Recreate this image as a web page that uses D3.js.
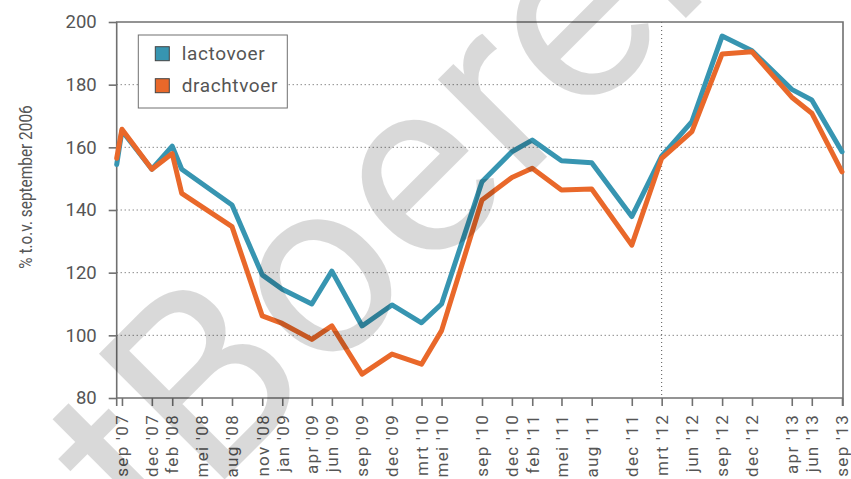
<!DOCTYPE html>
<html>
<head>
<meta charset="utf-8">
<script src="https://cdn.jsdelivr.net/npm/d3@7"></script>
<style>
  body { margin: 0; background: #fff; }
  svg { display: block; font-family: Roboto, "DejaVu Sans", sans-serif; }
</style>
</head>
<body>
<div id="chart"></div>
<script>
// data points (first point sits just before sep '07)
const pointDates = ["2007-08-16", "2007-09-01", "2007-12-01", "2008-02-01", "2008-03-01", "2008-08-01",
  "2008-11-01", "2009-01-01", "2009-04-01", "2009-06-01", "2009-09-01", "2009-12-01", "2010-03-01",
  "2010-05-01", "2010-09-01", "2010-12-01", "2011-02-01", "2011-05-01", "2011-08-01", "2011-12-01",
  "2012-03-01", "2012-06-01", "2012-09-01", "2012-12-01", "2013-04-01", "2013-06-01", "2013-09-01"];
const lactovoer = [154.5, 165.3, 153, 160.4, 153, 141.6, 119.3, 114.7, 110, 120.5, 103, 109.7, 104,
  110, 149, 158.6, 162.3, 155.7, 155.1, 137.9, 157.2, 168.2, 195.5, 190.8, 178.5, 175.1, 158.6];
const drachtvoer = [156.5, 165.8, 153, 158, 145.3, 134.7, 106.2, 103.8, 98.7, 103, 87.6, 94, 90.8,
  101.5, 143.2, 150.4, 153.3, 146.4, 146.7, 128.8, 156.5, 165, 189.8, 190.5, 176, 170.9, 152.2];

const seriesNames = ["lactovoer", "drachtvoer"];
const seriesColors = ["#3795b1", "#e9682a"];

const tickDates = ["2007-09-01", "2007-12-01", "2008-02-01", "2008-05-01", "2008-08-01", "2008-11-01",
  "2009-01-01", "2009-04-01", "2009-06-01", "2009-09-01", "2009-12-01", "2010-03-01", "2010-05-01",
  "2010-09-01", "2010-12-01", "2011-02-01", "2011-05-01", "2011-08-01", "2011-12-01", "2012-03-01",
  "2012-06-01", "2012-09-01", "2012-12-01", "2013-04-01", "2013-06-01", "2013-09-01"];
const tickLabels = ["sep '07", "dec '07", "feb '08", "mei '08", "aug '08", "nov '08", "jan '09",
  "apr '09", "jun '09", "sep '09", "dec '09", "mrt '10", "mei '10", "sep '10", "dec '10", "feb '11",
  "mei '11", "aug '11", "dec '11", "mrt '12", "jun '12", "sep '12", "dec '12", "apr '13", "jun '13",
  "sep '13"];
const yTicks = [80, 100, 120, 140, 160, 180, 200];
const markerDate = "2012-03-01";
const xDomain = ["2007-08-16", "2013-09-04"];
const yTitle = "% t.o.v. september 2006";
const watermark = ["Concept ", "Boerenbusiness"];

const parse = d3.timeParse("%Y-%m-%d");

const width = 851, height = 479;
const margin = {top: 22, right: 8, bottom: 81, left: 116.7};
const x0 = margin.left, x1 = width - margin.right;
const y0 = height - margin.bottom, y1 = margin.top;

const svg = d3.select("#chart").append("svg")
  .attr("width", width)
  .attr("height", height);

const x = d3.scaleTime()
  .domain(xDomain.map(parse))
  .range([x0, x1]);

const y = d3.scaleLinear()
  .domain([80, 200])
  .range([y0, y1]);

const axisColor = "#707070";
const textColor = "#555";

// dotted grid
svg.append("g").selectAll("line")
  .data(yTicks.filter(v => v > 80 && v < 200))
  .join("line")
  .attr("x1", x0).attr("x2", x1)
  .attr("y1", d => y(d)).attr("y2", d => y(d))
  .attr("stroke", "#555")
  .attr("stroke-width", 1)
  .attr("stroke-dasharray", "1,3");

svg.append("line")
  .attr("x1", x(parse(markerDate))).attr("x2", x(parse(markerDate)))
  .attr("y1", y1).attr("y2", y0)
  .attr("stroke", "#555")
  .attr("stroke-width", 1)
  .attr("stroke-dasharray", "1,3");

// y axis
const yAxis = svg.append("g")
  .attr("transform", "translate(" + x0 + ",0)")
  .call(d3.axisLeft(y).tickValues(yTicks).tickSize(8).tickSizeOuter(0).tickPadding(12));
yAxis.select(".domain").remove();
yAxis.selectAll("line").attr("stroke", axisColor).attr("stroke-width", 1.6);
yAxis.selectAll("text")
  .attr("fill", textColor)
  .style("font-size", "18.5px")
  .style("font-family", "Roboto, sans-serif");

// x axis
const xAxis = svg.append("g")
  .attr("transform", "translate(0," + y0 + ")")
  .call(d3.axisBottom(x)
    .tickValues(tickDates.map(parse))
    .tickFormat((d, i) => tickLabels[i])
    .tickSize(8).tickSizeOuter(0));
xAxis.select(".domain").remove();
xAxis.selectAll("line").attr("stroke", axisColor).attr("stroke-width", 1.6);
xAxis.selectAll("text")
  .attr("transform", "rotate(-90)")
  .attr("text-anchor", "end")
  .attr("x", -16)
  .attr("y", 0)
  .attr("dy", "0.34em")
  .attr("fill", textColor)
  .style("font-size", "17px")
  .style("letter-spacing", "1.3px")
  .style("font-family", "Roboto, sans-serif");

// frame
svg.append("path")
  .attr("d", d3.line()([[x0, y0 + 8], [x0, y1], [x1, y1], [x1, y0 + 8]]))
  .attr("fill", "none")
  .attr("stroke", axisColor)
  .attr("stroke-width", 1.6);
svg.append("line")
  .attr("x1", x0).attr("x2", x1)
  .attr("y1", y0).attr("y2", y0)
  .attr("stroke", axisColor)
  .attr("stroke-width", 1.6);

// y axis title
svg.append("text")
  .attr("transform", "translate(32," + ((y0 + y1) / 2 - 23) + ") rotate(-90) scale(0.88,1)")
  .attr("text-anchor", "middle")
  .attr("fill", textColor)
  .style("font-size", "17.5px")
  .text(yTitle);

// lines
const series = [lactovoer, drachtvoer].map((vals, i) => ({
  name: seriesNames[i],
  color: seriesColors[i],
  values: vals.map((v, j) => ({date: parse(pointDates[j]), value: v}))
}));

const line = d3.line()
  .x(d => x(d.date))
  .y(d => y(d.value));

svg.append("g").selectAll("path")
  .data(series)
  .join("path")
  .attr("d", d => line(d.values))
  .attr("fill", "none")
  .attr("stroke", d => d.color)
  .attr("stroke-width", 5)
  .attr("stroke-linejoin", "round")
  .attr("stroke-linecap", "round");

// legend
const legend = svg.append("g").attr("transform", "translate(138.3,35)");
legend.append("rect")
  .attr("width", 149).attr("height", 73)
  .attr("fill", "#fff")
  .attr("stroke", axisColor)
  .attr("stroke-width", 1);
const item = legend.selectAll(".item")
  .data(series)
  .join("g")
  .attr("class", "item")
  .attr("transform", (d, i) => "translate(17," + (11.7 + i * 32) + ")");
item.append("rect")
  .attr("width", 14).attr("height", 14)
  .attr("fill", d => d.color)
  .attr("stroke", "#444")
  .attr("stroke-width", 1);
item.append("text")
  .attr("x", 26.5).attr("y", 12.8)
  .attr("fill", textColor)
  .style("font-size", "19px")
  .style("letter-spacing", "0.6px")
  .text(d => d.name);

// watermark over everything
const wm = svg.append("g")
  .attr("transform", "translate(210,494) rotate(-45)")
  .attr("fill", "#000")
  .attr("fill-opacity", 0.15)
  .style("font-size", "250px")
  .style("font-weight", 400)
  .style("letter-spacing", "2px");
wm.append("text").attr("text-anchor", "end").text(watermark[0]);
wm.append("text").attr("text-anchor", "start").text(watermark[1]);
</script>
</body>
</html>
